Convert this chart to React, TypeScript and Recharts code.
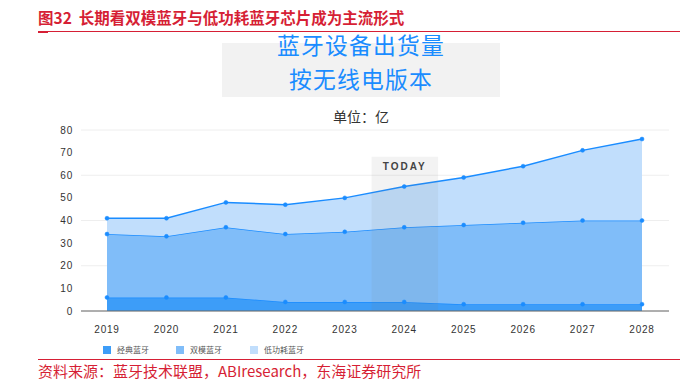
import { Area, AreaChart, CartesianGrid, ReferenceArea, XAxis, YAxis } from 'recharts'

const years = [2019, 2020, 2021, 2022, 2023, 2024, 2025, 2026, 2027, 2028]
const classic = [6, 6, 6, 4, 4, 4, 3, 3, 3, 3]
const dualMode = [28, 27, 31, 30, 31, 33, 35, 36, 37, 37]
const lowEnergy = [7, 8, 11, 13, 15, 18, 21, 25, 31, 36]
const yTicks = [0, 10, 20, 30, 40, 50, 60, 70, 80]
const seriesNames = ['经典蓝牙', '双模蓝牙', '低功耗蓝牙']

const data = years.map((year, i) => ({
  year,
  classic: classic[i],
  dual: dualMode[i],
  le: lowEnergy[i],
}))

const red = '#d61f35'
const line = '#1a8cff'
const fills = ['#3d9df8', '#80bdf9', '#c1defc']
const cjk = '"Noto Sans CJK SC", "Noto Sans", sans-serif'
const latin = '"Liberation Sans", Arial, sans-serif'

export default function App() {
  const tick = { fontSize: 10, fill: '#333', fontFamily: latin, letterSpacing: 0.8 }
  const boxText = {
    position: 'absolute' as const,
    left: 222,
    width: 278,
    textAlign: 'center' as const,
    fontFamily: cjk,
    fontSize: 22.8,
    letterSpacing: 1.2,
    lineHeight: '34px',
    color: line,
  }
  return (
    <div style={{ position: 'absolute', left: 0, top: 0, width: 688, height: 384, background: '#fff', overflow: 'hidden' }}>
      <div style={{ position: 'absolute', left: 38, top: 6, fontFamily: cjk, fontWeight: 700, fontSize: 15.5, color: red, lineHeight: '22px', whiteSpace: 'nowrap' }}>
        图32&nbsp;&nbsp;长期看双模蓝牙与低功耗蓝牙芯片成为主流形式
      </div>
      <div style={{ position: 'absolute', left: 38, top: 31, width: 642, height: 1, background: red }} />
      <div style={{ position: 'absolute', left: 38, top: 31, width: 10, height: 2, background: red }} />

      <div style={{ position: 'absolute', left: 222, top: 43, width: 278, height: 54, background: '#f2f2f2' }} />
      <div style={{ ...boxText, top: 28 }}>蓝牙设备出货量</div>
      <div style={{ ...boxText, top: 61.5 }}>按无线电版本</div>

      <div style={{ position: 'absolute', left: 333, top: 106, fontFamily: cjk, fontSize: 14, lineHeight: '20px', color: '#333' }}>
        单位：亿
      </div>

      <div style={{ position: 'absolute', left: 0, top: 0 }}>
        <AreaChart width={688} height={384} data={data} margin={{ top: 130, right: 19, bottom: 43, left: 41 }}>
          <CartesianGrid vertical={false} stroke="#eeeeee" />
          <XAxis
            dataKey="year"
            type="number"
            domain={[2019, 2028]}
            ticks={years}
            padding={{ left: 26, right: 27 }}
            tickLine={false}
            axisLine={{ stroke: '#666' }}
            tickMargin={9}
            height={30}
            tick={tick}
            allowDecimals={false}
          />
          <YAxis domain={[0, 80]} ticks={yTicks} width={40} tickLine={false} axisLine={false} tick={tick} />
          <Area
            type="linear"
            dataKey="classic"
            stackId="1"
            stroke={line}
            strokeWidth={1.5}
            fill={fills[0]}
            fillOpacity={1}
            dot={{ r: 2, fill: line, stroke: line, strokeWidth: 0.5 }}
            isAnimationActive={false}
          />
          <Area
            type="linear"
            dataKey="dual"
            stackId="1"
            stroke={line}
            strokeWidth={1.5}
            fill={fills[1]}
            fillOpacity={1}
            dot={{ r: 2, fill: line, stroke: line, strokeWidth: 0.5 }}
            isAnimationActive={false}
          />
          <Area
            type="linear"
            dataKey="le"
            stackId="1"
            stroke={line}
            strokeWidth={1.5}
            fill={fills[2]}
            fillOpacity={1}
            dot={{ r: 2, fill: line, stroke: line, strokeWidth: 0.5 }}
            isAnimationActive={false}
          />
          <ReferenceArea
            x1={2023.45}
            x2={2024.57}
            y1={0}
            y2={68.2}
            fill="#7f7f7f"
            fillOpacity={0.09}
            stroke="none"
            label={{ value: 'TODAY', position: 'insideTop', offset: 6, fontSize: 10, fontWeight: 700, fill: '#444', letterSpacing: 2, fontFamily: latin }}
          />
        </AreaChart>
      </div>

      {seriesNames.map((name, i) => (
        <div key={name} style={{ position: 'absolute', left: [103, 176, 250][i], top: 345, display: 'flex', alignItems: 'center', whiteSpace: 'nowrap' }}>
          <div style={{ width: 8, height: 8, background: fills[i] }} />
          <span style={{ marginLeft: 6, fontFamily: cjk, fontSize: 8, color: '#555', lineHeight: '10px' }}>{name}</span>
        </div>
      ))}

      <div style={{ position: 'absolute', left: 38, top: 359, width: 642, height: 1, background: red }} />
      <div style={{ position: 'absolute', left: 38, top: 361, fontFamily: cjk, fontSize: 15, lineHeight: '20px', color: red, whiteSpace: 'nowrap' }}>
        资料来源：蓝牙技术联盟，ABIresearch，东海证券研究所
      </div>
    </div>
  )
}
